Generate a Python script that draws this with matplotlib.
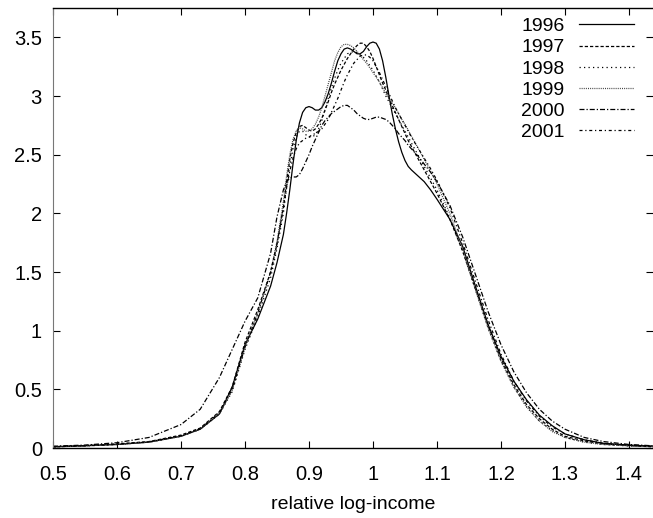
import matplotlib
matplotlib.use("Agg")
import matplotlib.pyplot as plt
from matplotlib.ticker import FuncFormatter

plt.rcParams['font.family'] = ['Liberation Sans', 'DejaVu Sans']

x = [0.50, 0.55, 0.60, 0.65, 0.70, 0.73, 0.76, 0.78, 0.80, 0.82, 0.84, 0.85,
     0.860, 0.865, 0.870, 0.875, 0.880, 0.885, 0.890, 0.895, 0.900, 0.905,
     0.910, 0.915, 0.920, 0.925, 0.930, 0.935, 0.940, 0.945, 0.950, 0.955,
     0.960, 0.965, 0.970, 0.975, 0.980, 0.985, 0.990, 0.995, 1.000, 1.005,
     1.010, 1.015, 1.020, 1.025, 1.030, 1.035, 1.040, 1.045, 1.050, 1.055, 1.060,
     1.07, 1.08, 1.09, 1.10, 1.12, 1.14, 1.16, 1.18, 1.20, 1.22,
     1.24, 1.26, 1.28, 1.30, 1.33, 1.36, 1.40, 1.44]

y1996 = [0.010, 0.020, 0.030, 0.050, 0.100, 0.160, 0.290, 0.520, 0.880, 1.100, 1.380, 1.580,
         1.82, 2.00, 2.20, 2.42, 2.62, 2.77, 2.86, 2.90, 2.91, 2.90,
         2.88, 2.88, 2.90, 2.95, 3.02, 3.11, 3.21, 3.30, 3.36, 3.40,
         3.41, 3.40, 3.38, 3.36, 3.36, 3.38, 3.42, 3.45, 3.46, 3.45,
         3.40, 3.30, 3.16, 3.00, 2.85, 2.72, 2.61, 2.52, 2.45, 2.40, 2.37,
         2.32, 2.27, 2.20, 2.12, 1.95, 1.72, 1.38, 1.05, 0.78, 0.57,
         0.41, 0.28, 0.19, 0.12, 0.07, 0.04, 0.025, 0.015]

y1997 = [0.012, 0.020, 0.035, 0.055, 0.110, 0.170, 0.310, 0.520, 0.900, 1.180, 1.500, 1.740,
         2.05, 2.27, 2.46, 2.60, 2.69, 2.74, 2.75, 2.73, 2.71, 2.70,
         2.72, 2.76, 2.81, 2.88, 2.95, 3.03, 3.10, 3.16, 3.22, 3.27,
         3.32, 3.36, 3.40, 3.43, 3.45, 3.45, 3.42, 3.38, 3.32, 3.25,
         3.18, 3.11, 3.05, 2.98, 2.92, 2.86, 2.80, 2.74, 2.68, 2.62, 2.57,
         2.47, 2.37, 2.27, 2.17, 1.95, 1.68, 1.36, 1.04, 0.76, 0.54,
         0.37, 0.25, 0.16, 0.10, 0.06, 0.035, 0.020, 0.012]

y1998 = [0.010, 0.018, 0.030, 0.050, 0.100, 0.160, 0.290, 0.480, 0.840, 1.120, 1.450, 1.700,
         2.00, 2.22, 2.40, 2.55, 2.65, 2.70, 2.70, 2.67, 2.65, 2.65,
         2.67, 2.72, 2.79, 2.88, 2.98, 3.07, 3.15, 3.22, 3.28, 3.32,
         3.36, 3.37, 3.38, 3.37, 3.35, 3.33, 3.30, 3.26, 3.22, 3.17,
         3.12, 3.06, 3.00, 2.95, 2.90, 2.85, 2.80, 2.75, 2.70, 2.65, 2.60,
         2.50, 2.40, 2.30, 2.20, 1.96, 1.68, 1.35, 1.02, 0.74, 0.52,
         0.35, 0.23, 0.15, 0.09, 0.05, 0.03, 0.018, 0.010]

y1999 = [0.010, 0.018, 0.030, 0.050, 0.100, 0.160, 0.290, 0.490, 0.860, 1.150, 1.500, 1.760,
         2.10, 2.32, 2.50, 2.63, 2.70, 2.73, 2.72, 2.70, 2.70, 2.72,
         2.76, 2.82, 2.90, 3.00, 3.10, 3.20, 3.30, 3.37, 3.42, 3.44,
         3.44, 3.43, 3.41, 3.38, 3.35, 3.31, 3.28, 3.24, 3.20, 3.16,
         3.12, 3.07, 3.02, 2.98, 2.94, 2.90, 2.85, 2.80, 2.76, 2.71, 2.66,
         2.56, 2.46, 2.36, 2.25, 2.00, 1.70, 1.35, 1.02, 0.74, 0.52,
         0.35, 0.23, 0.14, 0.09, 0.05, 0.03, 0.018, 0.010]

y2000 = [0.015, 0.025, 0.045, 0.090, 0.200, 0.330, 0.600, 0.840, 1.080, 1.280, 1.660, 1.970,
         2.20, 2.27, 2.30, 2.31, 2.31, 2.33, 2.38, 2.44, 2.50, 2.57,
         2.63, 2.69, 2.75, 2.79, 2.82, 2.85, 2.87, 2.89, 2.91, 2.92,
         2.92, 2.90, 2.88, 2.85, 2.83, 2.81, 2.80, 2.80, 2.81, 2.82,
         2.82, 2.81, 2.80, 2.78, 2.75, 2.72, 2.68, 2.65, 2.62, 2.58, 2.55,
         2.49, 2.42, 2.35, 2.27, 2.07, 1.80, 1.48, 1.16, 0.88, 0.65,
         0.47, 0.33, 0.23, 0.16, 0.09, 0.055, 0.030, 0.018]

y2001 = [0.010, 0.018, 0.032, 0.052, 0.105, 0.165, 0.300, 0.500, 0.860, 1.150, 1.500, 1.740,
         2.05, 2.22, 2.36, 2.47, 2.55, 2.60, 2.62, 2.64, 2.65, 2.67,
         2.68, 2.70, 2.72, 2.76, 2.80, 2.86, 2.92, 2.98, 3.05, 3.12,
         3.18, 3.23, 3.28, 3.31, 3.34, 3.35, 3.35, 3.33, 3.30, 3.25,
         3.20, 3.14, 3.08, 3.02, 2.96, 2.90, 2.85, 2.80, 2.75, 2.70, 2.65,
         2.56, 2.47, 2.38, 2.28, 2.05, 1.75, 1.42, 1.09, 0.80, 0.57,
         0.40, 0.27, 0.18, 0.12, 0.07, 0.04, 0.022, 0.012]

years = ['1996', '1997', '1998', '1999', '2000', '2001']
series = [y1996, y1997, y1998, y1999, y2000, y2001]
styles = [
    dict(color='black', linestyle='-'),
    dict(color='black', linestyle=(0, (2.6, 1.6))),
    dict(color='black', linestyle=(0, (1.0, 2.6))),
    dict(color='#444444', linestyle=(0, (0.8, 0.9))),
    dict(color='black', linestyle=(0, (4.0, 1.6, 1.0, 1.6))),
    dict(color='black', linestyle=(0, (2.4, 2.2, 1.0, 2.2))),
]

xticks = [0.5, 0.6, 0.7, 0.8, 0.9, 1.0, 1.1, 1.2, 1.3, 1.4]
yticks = [0, 0.5, 1, 1.5, 2, 2.5, 3, 3.5]

fig = plt.figure(figsize=(6.53, 5.18), dpi=100)
ax = fig.add_axes([53/653, 70/518, 600/653, 440/518])

for yr, ys, st in zip(years, series, styles):
    ax.plot(x, ys, lw=0.9, label=yr, **st)

ax.set_xlim(0.5, 1.4375)
ax.set_ylim(0, 3.75)
ax.set_xticks(xticks)
ax.set_yticks(yticks)
fmt = FuncFormatter(lambda v, p: '%g' % round(v, 3))
ax.xaxis.set_major_formatter(fmt)
ax.yaxis.set_major_formatter(fmt)
ax.tick_params(direction='in', length=5, width=0.8, labelsize=14.5,
               top=True, right=True, colors='black')
ax.tick_params(axis='x', pad=12)
ax.tick_params(axis='y', pad=8)
ax.spines['right'].set_visible(False)
ax.spines['left'].set_color('#777777')
for s in ['top', 'bottom']:
    ax.spines[s].set_linewidth(1.0)
ax.set_xlabel('relative log-income', fontsize=14, labelpad=9)

ax.legend(loc='upper right', bbox_to_anchor=(0.968, 0.978), markerfirst=False,
          frameon=False, fontsize=14, handlelength=2.8, handletextpad=0.75,
          labelspacing=0.18, borderpad=0, borderaxespad=0)

fig.savefig('out.png', dpi=100)
